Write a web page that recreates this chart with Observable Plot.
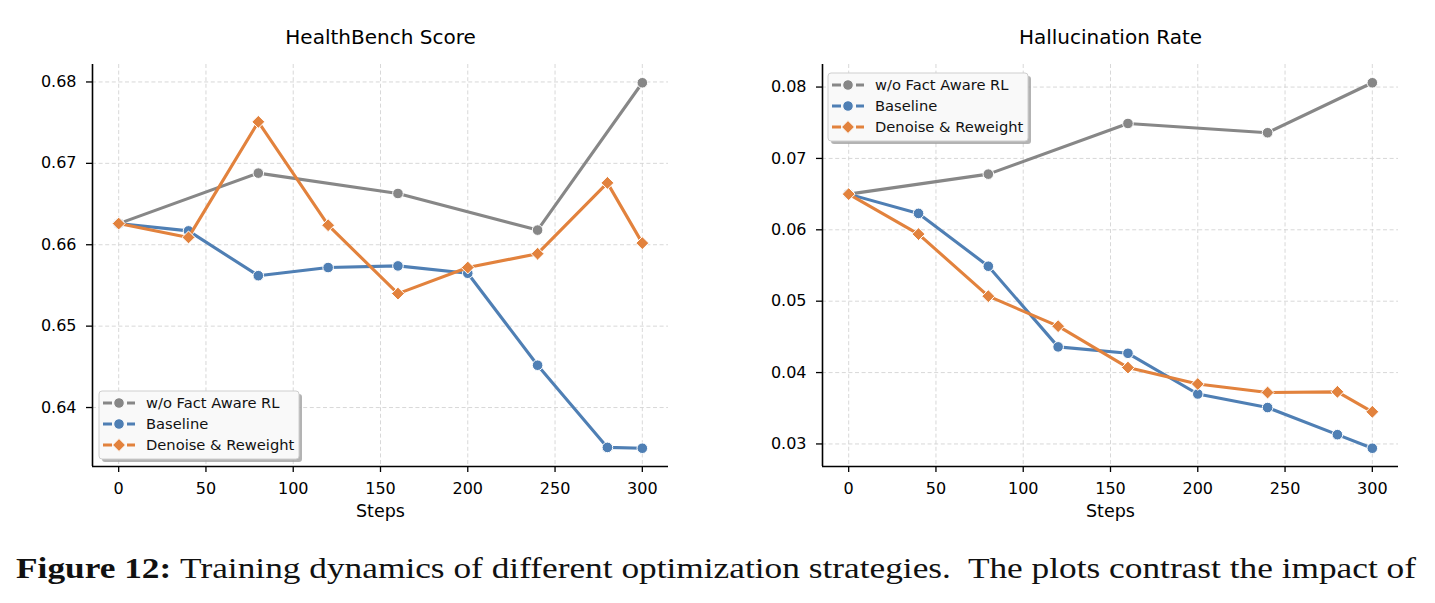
<!DOCTYPE html>
<html>
<head>
<meta charset="utf-8">
<script src="https://cdn.jsdelivr.net/npm/d3@7"></script>
<script src="https://cdn.jsdelivr.net/npm/@observablehq/plot@0.6"></script>
<style>
  html, body { margin: 0; padding: 0; background: #fff; }
  #page { position: relative; width: 1435px; height: 603px; overflow: hidden; background: #fff; font-family: "DejaVu Sans", sans-serif; }
  .panel { position: absolute; top: 0; }
  .overlay { position: absolute; top: 0; left: 0; pointer-events: none; }
</style>
</head>
<body>
<div id="page"></div>
<script>
// ---------------- data ----------------
const stepsAll = [0, 40, 80, 120, 160, 200, 240, 280, 300];
const stepsNoFact = [0, 80, 160, 240, 300];
const seriesNames = ["w/o Fact Aware RL", "Baseline", "Denoise & Reweight"];
const seriesColors = ["#878787", "#4f7fb4", "#e2823d"];
const seriesSymbols = ["circle", "circle", "diamond2"];

// HealthBench Score
const healthNoFact   = [0.6626, 0.6688, 0.6663, 0.6618, 0.6799];
const healthBaseline = [0.6626, 0.6617, 0.6562, 0.6572, 0.6574, 0.6565, 0.6452, 0.6351, 0.6350];
const healthDenoise  = [0.6626, 0.6609, 0.6751, 0.6624, 0.6540, 0.6572, 0.6589, 0.6676, 0.6602];

// Hallucination Rate
const hallNoFact   = [0.0650, 0.0678, 0.0749, 0.0736, 0.0806];
const hallBaseline = [0.0650, 0.0623, 0.0549, 0.0436, 0.0427, 0.0370, 0.0351, 0.0313, 0.0294];
const hallDenoise  = [0.0650, 0.0594, 0.0507, 0.0465, 0.0407, 0.0384, 0.0372, 0.0373, 0.0345];

const xTicks = [0, 50, 100, 150, 200, 250, 300];
const healthTicks = [0.64, 0.65, 0.66, 0.67, 0.68];
const hallTicks = [0.03, 0.04, 0.05, 0.06, 0.07, 0.08];

const titles = ["HealthBench Score", "Hallucination Rate"];
const xLabel = "Steps";
const captionBold = "Figure 12:";
const captionText = "Training dynamics of different optimization strategies.\u00A0 The plots contrast the impact of";

// ---------------- helpers ----------------
const page = document.getElementById("page");
const H = 530, TOP = 64, BOTTOM = 64;

function pad(extent) {
  const [a, b] = extent; const m = (b - a) * 0.05; return [a - m, b + m];
}

function panel({left, width, marginLeft, marginRight, title, series, yTicks, legend}) {
  const allVals = series.flatMap(s => s.values);
  const yDomain = pad(d3.extent(allVals));
  const xDomain = pad(d3.extent(stepsAll));
  const gridStyle = {stroke: "#d4d4d4", strokeOpacity: 1, strokeWidth: 0.9, strokeDasharray: "4,2.6"};
  const marks = [
    Plot.gridX(xTicks, gridStyle),
    Plot.gridY(yTicks, gridStyle),
    Plot.axisX(xTicks, {tickSize: 6, tickPadding: 10, fontSize: 16, label: null, strokeWidth: 1.3, tickFormat: d => String(d)}),
    Plot.axisY(yTicks, {tickSize: 6, tickPadding: 10, fontSize: 16, label: null, strokeWidth: 1.3, tickFormat: d3.format(".2f")}),
    Plot.ruleY([yDomain[0]], {stroke: "black", strokeWidth: 1.6}),
    Plot.ruleX([xDomain[0]], {stroke: "black", strokeWidth: 1.6})
  ];
  series.forEach((s, i) => {
    const rows = s.steps.map((st, j) => ({step: st, value: s.values[j]}));
    marks.push(Plot.line(rows, {x: "step", y: "value", stroke: seriesColors[i], strokeWidth: 3.1}));
    marks.push(Plot.dot(rows, {x: "step", y: "value", fill: seriesColors[i], stroke: "white", strokeWidth: 1,
      symbol: seriesSymbols[i], r: seriesSymbols[i] === "circle" ? 5.3 : 5.8}));
  });
  marks.push(Plot.text([title], {text: d => d, frameAnchor: "top", lineAnchor: "middle", dy: -27, fontSize: 20, fill: "black"}));
  marks.push(Plot.text([xLabel], {text: d => d, frameAnchor: "bottom", lineAnchor: "middle", dy: 45, fontSize: 17.5, fill: "black"}));

  const chart = Plot.plot({
    width, height: H, marginLeft, marginRight, marginTop: TOP, marginBottom: BOTTOM,
    x: {domain: xDomain},
    y: {domain: yDomain},
    style: {fontFamily: "DejaVu Sans", color: "black", background: "transparent", overflow: "visible"},
    marks
  });
  const wrap = document.createElement("div");
  wrap.className = "panel";
  wrap.style.left = left + "px";
  wrap.appendChild(chart);
  page.appendChild(wrap);

  // legend box
  const lg = d3.select(page).append("svg").attr("class", "overlay")
    .attr("width", 1435).attr("height", 603);
  const bw = 200, bh = 68;
  const g = lg.append("g").attr("transform", `translate(${legend.x},${legend.y})`);
  g.append("rect").attr("x", 3).attr("y", 3).attr("width", bw).attr("height", bh).attr("rx", 3)
    .attr("fill", "#9a9a9a").attr("opacity", 0.75);
  g.append("rect").attr("x", 0).attr("y", 0).attr("width", bw).attr("height", bh).attr("rx", 3)
    .attr("fill", "#f9f9f9").attr("stroke", "#cfcfcf").attr("stroke-width", 1);
  seriesNames.forEach((name, i) => {
    const cy = 12 + i * 21;
    g.append("line").attr("x1", 4).attr("x2", 36).attr("y1", cy).attr("y2", cy)
      .attr("stroke", seriesColors[i]).attr("stroke-width", 2.8).attr("stroke-dasharray", "9,3");
    const sym = seriesSymbols[i] === "circle" ? d3.symbolCircle : d3.symbolDiamond2;
    const size = seriesSymbols[i] === "circle" ? Math.PI * 5.3 * 5.3 : Math.PI * 5.8 * 5.8;
    g.append("path").attr("d", d3.symbol(sym, size)()).attr("transform", `translate(20,${cy})`)
      .attr("fill", seriesColors[i]).attr("stroke", "white").attr("stroke-width", 1);
    g.append("text").attr("x", 47).attr("y", cy).attr("dy", "0.36em")
      .attr("font-family", "DejaVu Sans").attr("font-size", 14.7).attr("fill", "#111").text(name);
  });
}

panel({
  left: 0, width: 717, marginLeft: 92, marginRight: 49, title: titles[0], yTicks: healthTicks,
  series: [
    {steps: stepsNoFact, values: healthNoFact},
    {steps: stepsAll, values: healthBaseline},
    {steps: stepsAll, values: healthDenoise}
  ],
  legend: {x: 99, y: 391}
});

panel({
  left: 717, width: 718, marginLeft: 105, marginRight: 37, title: titles[1], yTicks: hallTicks,
  series: [
    {steps: stepsNoFact, values: hallNoFact},
    {steps: stepsAll, values: hallBaseline},
    {steps: stepsAll, values: hallDenoise}
  ],
  legend: {x: 828, y: 73}
});

// caption
const cap = d3.select(page).append("svg").attr("class", "overlay").attr("width", 1435).attr("height", 603);
const t = cap.append("text").attr("x", 16).attr("y", 578)
  .attr("font-family", "'Liberation Serif', serif").attr("font-size", 30).attr("fill", "#111")
  .attr("textLength", 1400).attr("lengthAdjust", "spacingAndGlyphs");
t.append("tspan").attr("font-weight", "bold").text(captionBold + "\u00A0");
t.append("tspan").text(captionText);
</script>
</body>
</html>
